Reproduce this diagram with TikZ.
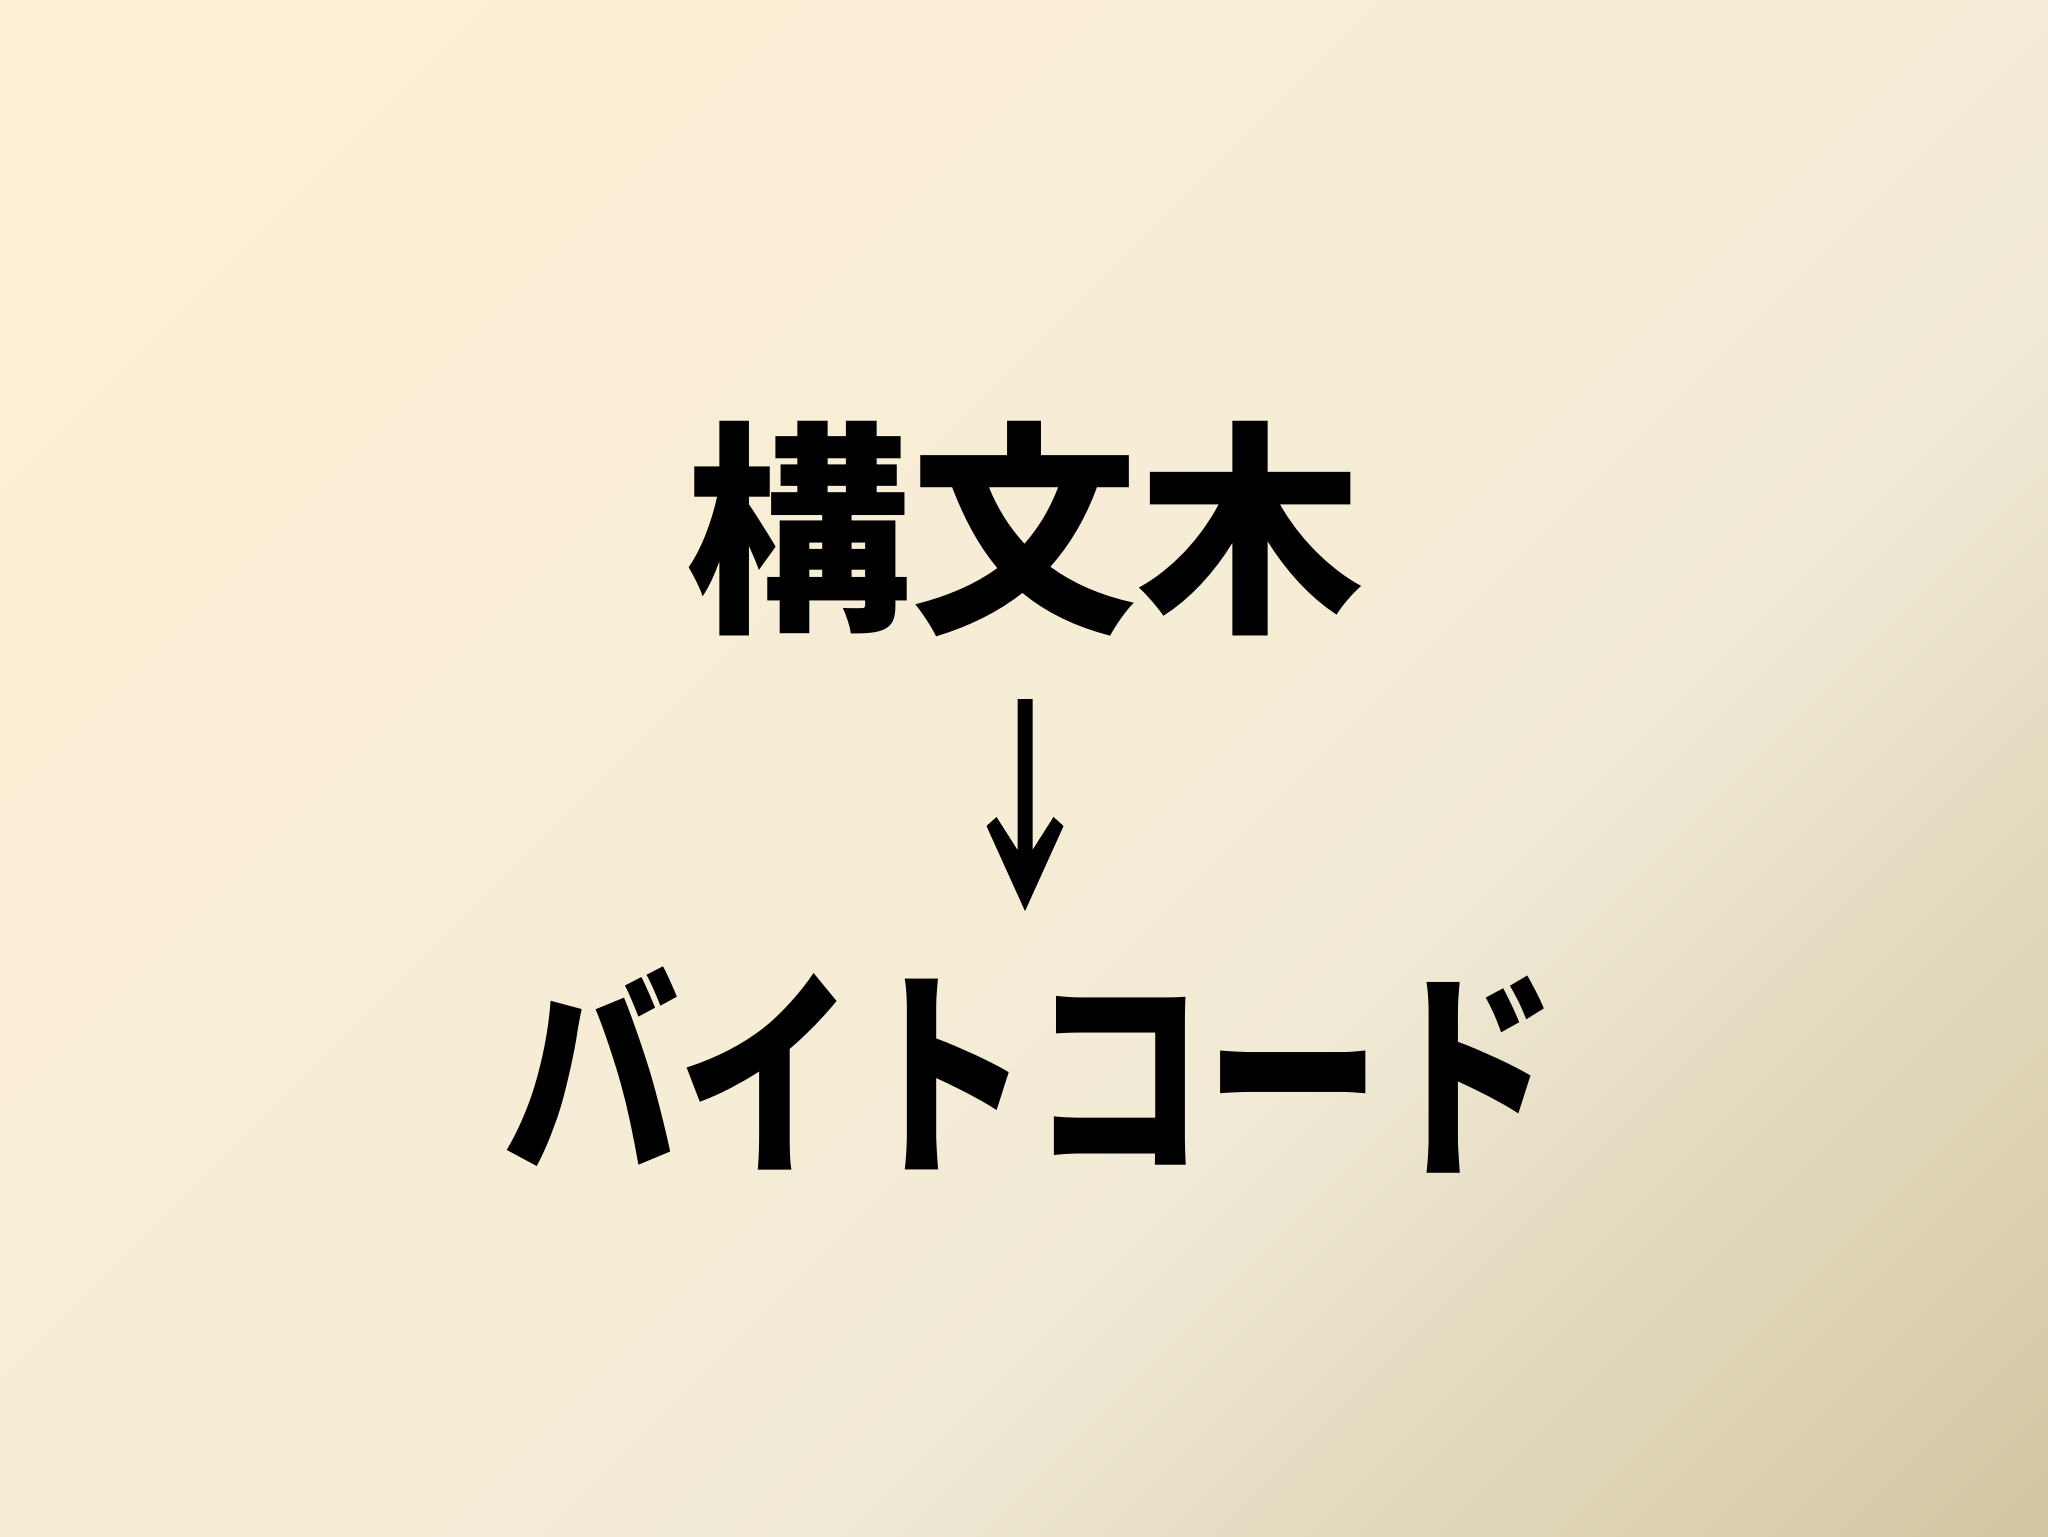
\documentclass[tikz,border=0pt]{standalone}
\usepackage{fontspec}
\newfontfamily\cjk{Noto Sans CJK JP}
\definecolor{bgA}{HTML}{FEF0D5}
\definecolor{bgB}{HTML}{F9EDD5}
\definecolor{bgC}{HTML}{F6EDD6}
\definecolor{bgD}{HTML}{F1EAD6}
\definecolor{bgE}{HTML}{E7DFC6}
\definecolor{bgF}{HTML}{D3C6A2}
\pgfdeclarehorizontalshading{bgshade}{100bp}{color(0bp)=(bgA); color(14.64bp)=(bgA); color(33.73bp)=(bgB); color(50bp)=(bgC); color(61.3bp)=(bgD); color(67.7bp)=(bgE); color(85.36bp)=(bgF); color(100bp)=(bgF)}
\tikzset{
  bigtext/.style={font=\cjk\bfseries\fontsize{113}{113}\selectfont, text=black, inner sep=0pt, anchor=base},
  kanatext/.style={font=\cjk\bfseries\fontsize{112}{112}\selectfont, text=black, inner sep=0pt, anchor=base},
  arrowshape/.style={fill=black, draw=none}
}
\begin{document}
\begin{tikzpicture}[x=0.5pt,y=0.5pt]
\useasboundingbox (0,0) rectangle (2048,-1536);
\shade[shading=bgshade, shading angle=-45] (0,0) rectangle (2048,-1536);
\node[bigtext] (src) at (1024,-614) {構文木};
\node[kanatext, xscale=0.784] (dst) at (1030,-1158) {バイトコード};
\coordinate (atop) at (1025,-699);
\fill[arrowshape] ([shift={(-7.5,0)}]atop) -- ++(15,0) -- ++(0,-151) -- ([shift={(28.5,-118)}]atop) -- ([shift={(38.5,-127)}]atop) -- ([shift={(0,-212)}]atop) -- ([shift={(-38.5,-127)}]atop) -- ([shift={(-28.5,-118)}]atop) -- ([shift={(-7.5,-151)}]atop) -- cycle;
\end{tikzpicture}
\end{document}
